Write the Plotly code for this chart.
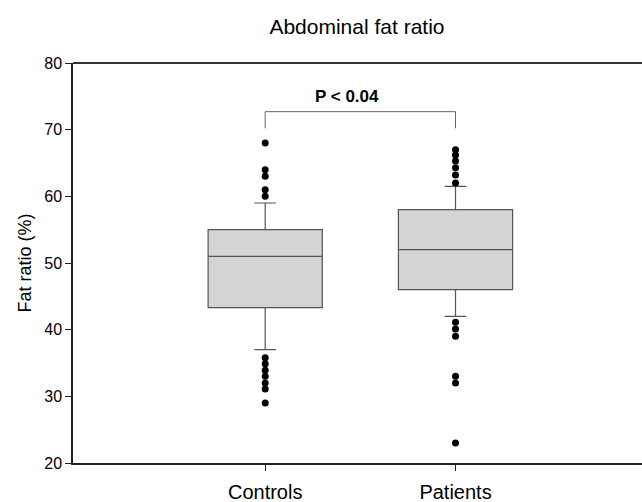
import plotly.graph_objects as go

categories = ["Controls", "Patients"]
q1 = [43.3, 46.0]
median = [51.0, 52.0]
q3 = [55.0, 58.0]
lower_whisker = [37.0, 42.0]
upper_whisker = [59.0, 61.5]
outliers = {
    "Controls": [68, 64, 63, 61, 60, 35.8, 34.9, 33.9, 33.0, 32.0, 31.1, 29.0],
    "Patients": [67, 66.2, 65.3, 64.3, 63.2, 62.0, 41.1, 40.1, 39.0, 33.0, 32.0, 23.0],
}
y_ticks = [20, 30, 40, 50, 60, 70, 80]
bracket_low = 70.2
bracket_high = 72.7
p_label = "P < 0.04"

FONT = "Liberation Sans, Arial, sans-serif"

fig = go.Figure()
for i, cat in enumerate(categories):
    fig.add_trace(go.Box(
        x=[cat], q1=[q1[i]], median=[median[i]], q3=[q3[i]],
        lowerfence=[lower_whisker[i]], upperfence=[upper_whisker[i]],
        fillcolor="#d4d4d4", line=dict(color="#555555", width=1.2),
        width=0.6, whiskerwidth=0.19, boxpoints=False, showlegend=False,
    ))
    fig.add_trace(go.Scatter(
        x=[cat] * len(outliers[cat]), y=outliers[cat], mode="markers",
        marker=dict(color="black", size=7), showlegend=False, hoverinfo="y",
    ))

# significance bracket
for x0, x1, y0, y1 in [
    (categories[0], categories[1], bracket_high, bracket_high),
    (categories[0], categories[0], bracket_low, bracket_high),
    (categories[1], categories[1], bracket_low, bracket_high),
]:
    fig.add_shape(type="line", x0=x0, x1=x1, y0=y0, y1=y1,
                  line=dict(color="#666666", width=1), xref="x", yref="y")
fig.add_annotation(x=0.43, y=75.0, xref="x", yref="y", text="<b>" + p_label + "</b>",
                   showarrow=False, font=dict(family=FONT, size=17, color="black"))
# top frame line
fig.add_shape(type="line", x0=0, x1=1, y0=1, y1=1, xref="paper", yref="paper",
              line=dict(color="#333333", width=2))

fig.update_layout(
    width=642, height=502,
    margin=dict(l=73, r=0, t=63, b=39),
    paper_bgcolor="white", plot_bgcolor="white",
    font=dict(family=FONT, color="black"),
    title=dict(text="Abdominal fat ratio", x=0.556, xanchor="center", y=0.946, yanchor="middle",
               font=dict(size=21, color="black")),
    xaxis=dict(type="category", categoryorder="array", categoryarray=categories,
               range=[-1.01, 1.98], showline=True, linecolor="#222222", linewidth=1.5,
               ticks="outside", ticklen=6, tickcolor="#222222", showgrid=False, zeroline=False,
               tickfont=dict(size=20), ticklabelstandoff=4),
    yaxis=dict(range=[20, 80], tickvals=y_ticks, showline=True, linecolor="#222222", linewidth=1.5,
               ticks="outside", ticklen=6, tickcolor="#222222", showgrid=False, zeroline=False,
               tickfont=dict(size=16),
               title=dict(text="Fat ratio (%)", font=dict(size=18), standoff=8)),
)

fig.write_html(
    "out.html",
    config={"displayModeBar": False},
    post_script="document.body.style.margin='0';document.body.style.overflow='hidden';",
)
